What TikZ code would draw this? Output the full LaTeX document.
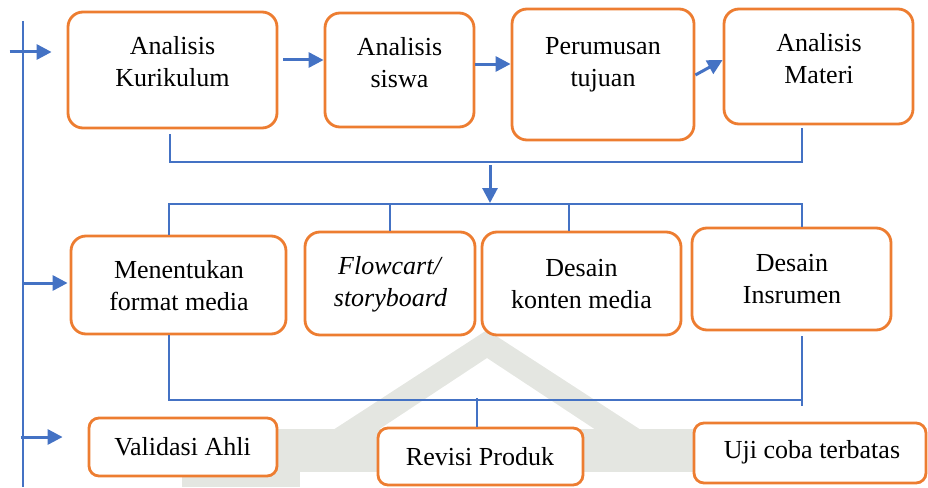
\documentclass[tikz,border=0pt]{standalone}
\usepackage{fontspec}
\setmainfont{Liberation Serif}
\usetikzlibrary{arrows.meta,calc}
\definecolor{orng}{HTML}{ED7D31}
\definecolor{blu}{HTML}{4472C4}
\definecolor{wm}{RGB}{228,230,225}
\begin{document}
\begin{tikzpicture}[x=1pt,y=-1pt,
 box/.style={draw=orng,line width=2.8pt,rounded corners=15pt,fill=white,inner sep=0pt},
 sbox/.style={box,rounded corners=10pt},
 txt/.style={align=center,font=\fontsize{26}{32}\selectfont,inner sep=0pt},
 conn/.style={draw=blu,line width=1.3pt},
 mainline/.style={draw=blu,line width=2.5pt},
 arr/.style={draw=blu,line width=3pt,-{Triangle[length=15pt,width=15pt]}},
]
\useasboundingbox (0,0) rectangle (928,487);
% faint watermark
\fill[wm] (487,330) -- (333,430) -- (378,430) -- (487,358) -- (596,430) -- (641,430) -- cycle;
\fill[wm] (182,429) rectangle (693,472);
\fill[wm] (182,472) rectangle (300,487);

% row 1
\node[box,minimum width=209pt,minimum height=116pt] (K) at (172.5,70) {};
\node[txt] (Kt) at (172.5,62) {Analisis\\Kurikulum};
\node[box,minimum width=149pt,minimum height=114pt] (S) at (399.5,70) {};
\node[txt] (St1) at (399.5,62.5) {Analisis\\siswa};
\node[box,minimum width=182pt,minimum height=131pt] (P) at (603,74.5) {};
\node[txt] (Pt) at (603,64.5) {Perumusan\\tujuan};
\node[box,minimum width=189pt,minimum height=115pt] (M) at (818.5,66.5) {};
\node[txt] (Mt) at (819,59) {Analisis\\Materi};

% row 2
\node[box,minimum width=215pt,minimum height=98pt] (F) at (178.5,285) {};
\node[txt] (Ft) at (179,286) {Menentukan\\format media};
\node[box,minimum width=170pt,minimum height=103pt] (St) at (390,283.5) {};
\node[txt] (Stt) at (390.5,284.5) {\textit{Flowcart/}\\\textit{storyboard}};
\node[box,minimum width=199pt,minimum height=103pt] (D) at (581.5,283.5) {};
\node[txt] (Dt) at (581.5,284.5) {Desain\\konten media};
\node[box,minimum width=199pt,minimum height=102pt] (I) at (791.5,279) {};
\node[txt] (It) at (792,279.5) {Desain\\Insrumen};

% row 3
\node[sbox,minimum width=188pt,minimum height=58pt] (V) at (183,447) {};
\node[txt] (Vt) at (182.5,447) {Validasi Ahli};
\node[sbox,minimum width=205pt,minimum height=57pt] (R) at (480.5,456.5) {};
\node[txt] (Rt) at (480,457) {Revisi Produk};
\node[sbox,minimum width=232pt,minimum height=60pt] (U) at (810,453) {};
\node[txt] (Ut) at (812,452.5) {Uji coba terbatas};

% main vertical line
\coordinate (t0) at (23,21);
\coordinate (b0) at (23,487);
\draw[mainline] (t0) -- (b0);

% left arrows
\draw[arr] ($(K.west)+(-57,-18)$) -- ($(K.west)+(-15,-18)$);
\draw[arr] ($(F.west)+(-46,-2)$) -- ($(F.west)+(-2,-2)$);
\draw[arr] ($(V.west)+(-67,-10)$) -- ($(V.west)+(-25,-10)$);

% row 1 arrows
\draw[arr] ($(K.east)+(5,-10)$) -- ($(S.west)+(0,-10)$);
\draw[arr] ($(S.east)+(0,-6)$) -- ($(P.west)+(0,-10.5)$);
\draw[arr] ($(P.east)+(0,0.5)$) -- ($(M.west)+(0,-6.5)$);

% bracket 1
\coordinate (j1) at (490,162);
\coordinate (j2) at (490,204);
\coordinate (k0) at ($(K.south)+(-2.5,5)$);
\coordinate (m0) at ($(M.south)+(-16.5,3)$);
\draw[conn] (k0) |- (j1) -| (m0);
\draw[arr] ($(j1)+(0,3)$) -- ($(j2)+(0,-1)$);

% bracket 2
\coordinate (f0) at ($(F.north)+(-9.5,0)$);
\coordinate (i0) at ($(I.north)+(10.5,0)$);
\coordinate (d0) at ($(D.north)+(-12.5,0)$);
\draw[conn] (f0) |- (j2) -| (i0);
\draw[conn] (St.north) -- (St.north |- j2);
\draw[conn] (d0) -- (d0 |- j2);

% bracket 3
\coordinate (f1) at ($(F.south)+(-9.5,0)$);
\coordinate (j3) at (477,400);
\coordinate (i1) at ($(I.south)+(10.5,5)$);
\draw[conn] (f1) |- (j3) -- (j3 -| i1);
\draw[conn] (i1) -- ++(0,70);
\draw[conn] ($(j3)+(0,-2)$) -- (R.north -| j3);
\end{tikzpicture}
\end{document}
